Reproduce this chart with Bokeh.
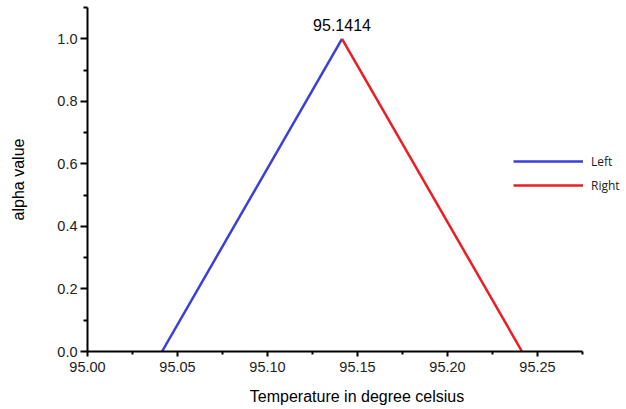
from bokeh.plotting import figure
from bokeh.models import Range1d, Label, Legend, LegendItem, FixedTicker
from bokeh.embed import file_html
from bokeh.resources import INLINE

left_x = [95.0414, 95.1414]
left_y = [0.0, 1.0]
right_x = [95.1414, 95.2414]
right_y = [1.0, 0.0]
peak_label = "95.1414"
x_ticks = [95.00, 95.05, 95.10, 95.15, 95.20, 95.25]
y_ticks = [0.0, 0.2, 0.4, 0.6, 0.8, 1.0]

FONT = "Liberation Sans"

p = figure(width=626, height=409, output_backend="svg", toolbar_location=None,
           x_range=Range1d(95.0, 95.0 + 539 / 1800), y_range=Range1d(0, 1.1),
           min_border_left=87, min_border_right=0, min_border_top=7, min_border_bottom=58)
p.outline_line_color = None
p.grid.visible = False
p.background_fill_color = "white"
p.border_fill_color = "white"

r1 = p.line(left_x, left_y, line_color="#3b3fd8", line_width=2.5)
r2 = p.line(right_x, right_y, line_color="#ec1c24", line_width=2.5)

for ax in (p.xaxis[0], p.yaxis[0]):
    ax.axis_line_width = 2
    ax.major_tick_line_width = 2
    ax.minor_tick_line_width = 2
    ax.axis_line_color = "black"
    ax.major_tick_line_color = "black"
    ax.minor_tick_line_color = "black"
    ax.major_tick_in = 0
    ax.minor_tick_in = 0
    ax.major_label_text_font = FONT
    ax.major_label_text_font_size = "14.5px"
    ax.major_label_text_color = "#222222"
    ax.axis_label_text_font = FONT
    ax.axis_label_text_font_size = "16px"
    ax.axis_label_text_font_style = "normal"
    ax.axis_label_text_color = "black"

p.xaxis.bounds = (95.0, 95.275)
p.yaxis.bounds = (0.0, 1.1)
p.xaxis.ticker = FixedTicker(ticks=x_ticks, minor_ticks=[95.025, 95.075, 95.125, 95.175, 95.225, 95.275])
p.yaxis.ticker = FixedTicker(ticks=y_ticks, minor_ticks=[0.1, 0.3, 0.5, 0.7, 0.9, 1.1])
p.xaxis.major_label_overrides = {t: f"{t:.2f}" for t in x_ticks}
p.yaxis.major_label_overrides = {t: f"{t:.1f}" for t in y_ticks}
p.xaxis.major_tick_out = 5
p.xaxis.minor_tick_out = 3
p.yaxis.major_tick_out = 7
p.yaxis.minor_tick_out = 4
p.xaxis.major_label_standoff = 5
p.yaxis.major_label_standoff = 3
p.xaxis.axis_label = "Temperature in degree celsius"
p.yaxis.axis_label = "alpha value"
p.xaxis.axis_label_standoff = 13
p.yaxis.axis_label_standoff = 27

p.add_layout(Label(x=left_x[1], y=left_y[1], text=peak_label, text_align="center",
                   text_baseline="bottom", y_offset=8, text_font=FONT,
                   text_font_size="16px", text_color="black"))

legend = Legend(items=[LegendItem(label="Left", renderers=[r1]),
                       LegendItem(label="Right", renderers=[r2])],
                location=(426, 156), glyph_width=70, glyph_height=20,
                label_height=20, spacing=4, padding=0, margin=0,
                label_standoff=8, border_line_color=None,
                background_fill_alpha=0, label_text_font="Open Sans",
                label_text_font_size="12px", label_text_color="#222222")
p.add_layout(legend, "center")

open("out.html", "w").write(file_html(p, INLINE))
